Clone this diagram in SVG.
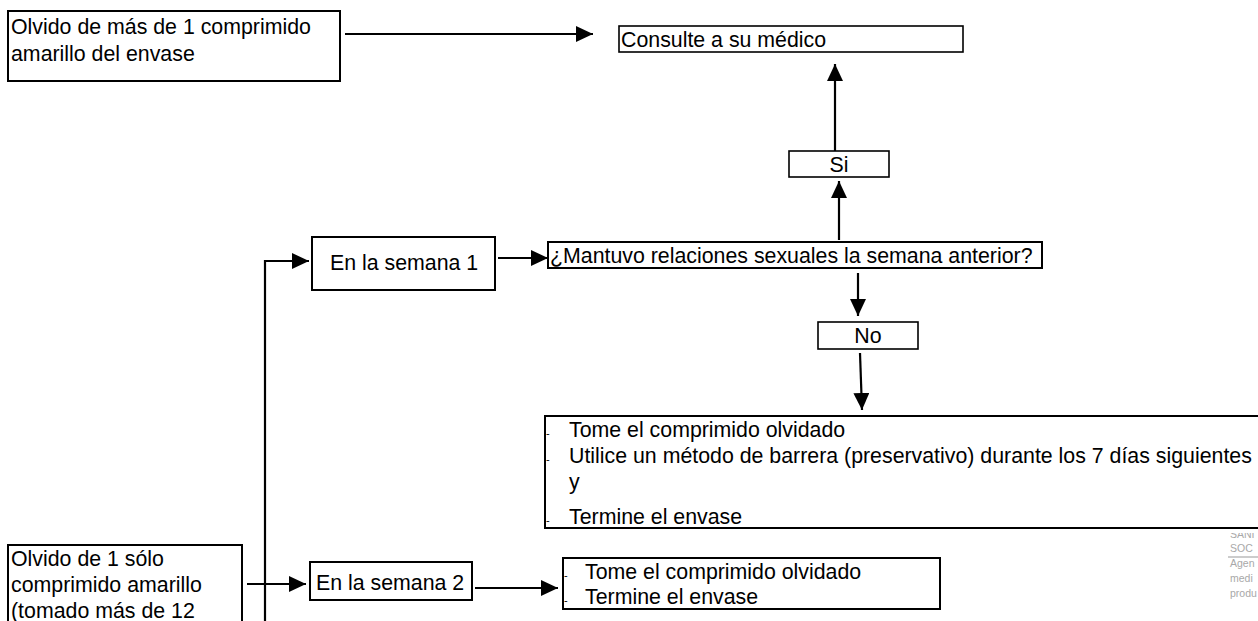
<svg xmlns="http://www.w3.org/2000/svg" width="1258" height="621" viewBox="0 0 1258 621">
<defs>
<marker id="ah" viewBox="0 0 17 16" refX="17" refY="8" markerWidth="17" markerHeight="16" markerUnits="userSpaceOnUse" orient="auto">
<path d="M0,0 L17,8 L0,16 Z" fill="#000"/>
</marker>
<clipPath id="wm"><rect x="1200" y="533" width="58" height="88"/></clipPath>
</defs>
<style>
.box{fill:#fff;stroke:#000;stroke-width:2}
.t{font-family:"Liberation Sans",Arial,sans-serif;font-size:21.33px;fill:#000}
.d{font-family:"Liberation Sans",Arial,sans-serif;font-size:11px;fill:#000}
.c{fill:none;stroke:#000;stroke-width:2.2}
.w{font-family:"Liberation Sans",Arial,sans-serif;font-size:10.5px;fill:#a8a8a8}
</style>
<rect width="1258" height="621" fill="#fff"/>

<g id="connectors">
<path class="c" d="M345,34 H593" marker-end="url(#ah)"/>
<path class="c" d="M835,151 V64" marker-end="url(#ah)"/>
<path class="c" d="M839,240 V181" marker-end="url(#ah)"/>
<path class="c" d="M498,258 H548" marker-end="url(#ah)"/>
<path class="c" d="M858,273 V316" marker-end="url(#ah)"/>
<path class="c" d="M860,353 L862,410" marker-end="url(#ah)"/>
<path class="c" d="M265,621 V261 H309" marker-end="url(#ah)"/>
<path class="c" d="M247,584 H306" marker-end="url(#ah)"/>
<path class="c" d="M475,588 H558" marker-end="url(#ah)"/>
</g>

<g id="n-olvido-mas">
<rect class="box" x="8" y="11" width="332" height="70"/>
<text class="t" x="11" y="34">Olvido de más de 1 comprimido</text>
<text class="t" x="11" y="61">amarillo del envase</text>
</g>

<g id="n-consulte">
<rect class="box" x="619" y="26" width="344" height="26" style="stroke-width:1.6"/>
<text class="t" x="621" y="47">Consulte a su médico</text>
</g>

<g id="n-si">
<rect class="box" x="789" y="151" width="100" height="26" style="stroke-width:1.6"/>
<text class="t" x="839" y="172" text-anchor="middle">Si</text>
</g>

<g id="n-semana1">
<rect class="box" x="312" y="237" width="183" height="53"/>
<text class="t" x="330" y="270">En la semana 1</text>
</g>

<g id="n-mantuvo">
<rect class="box" x="548" y="242" width="494" height="26"/>
<text class="t" x="550" y="263">¿Mantuvo relaciones sexuales la semana anterior?</text>
</g>

<g id="n-no">
<rect class="box" x="818" y="322" width="100" height="27" style="stroke-width:1.6"/>
<text class="t" x="868" y="343" text-anchor="middle">No</text>
</g>

<g id="n-lista1">
<rect class="box" x="545" y="416" width="720" height="112"/>
<text class="d" x="546" y="437">-</text>
<text class="t" x="569" y="437">Tome el comprimido olvidado</text>
<text class="d" x="546" y="463">-</text>
<text class="t" x="569" y="463">Utilice un método de barrera (preservativo) durante los 7 días siguientes</text>
<text class="t" x="569" y="489">y</text>
<text class="d" x="546" y="524">-</text>
<text class="t" x="569" y="524">Termine el envase</text>
</g>

<g id="n-olvido-uno">
<rect class="box" x="8" y="545" width="234" height="90"/>
<text class="t" x="11" y="566">Olvido de 1 sólo</text>
<text class="t" x="11" y="592">comprimido amarillo</text>
<text class="t" x="11" y="617.5">(tomado más de 12</text>
</g>

<g id="n-semana2">
<rect class="box" x="310" y="562" width="162" height="38"/>
<text class="t" x="316" y="590">En la semana 2</text>
</g>

<g id="n-lista2">
<rect class="box" x="563" y="558" width="377" height="51"/>
<text class="d" x="564" y="579">-</text>
<text class="t" x="585" y="579">Tome el comprimido olvidado</text>
<text class="d" x="564" y="604">-</text>
<text class="t" x="585" y="604">Termine el envase</text>
</g>

<g id="watermark" clip-path="url(#wm)">
<text class="w" x="1230" y="538">SANI</text>
<text class="w" x="1230" y="552">SOC</text>
<line x1="1228" y1="557" x2="1258" y2="557" stroke="#999" stroke-width="1"/>
<text class="w" x="1230" y="567">Agen</text>
<text class="w" x="1230" y="582">medi</text>
<text class="w" x="1230" y="597">produ</text>
</g>
</svg>
